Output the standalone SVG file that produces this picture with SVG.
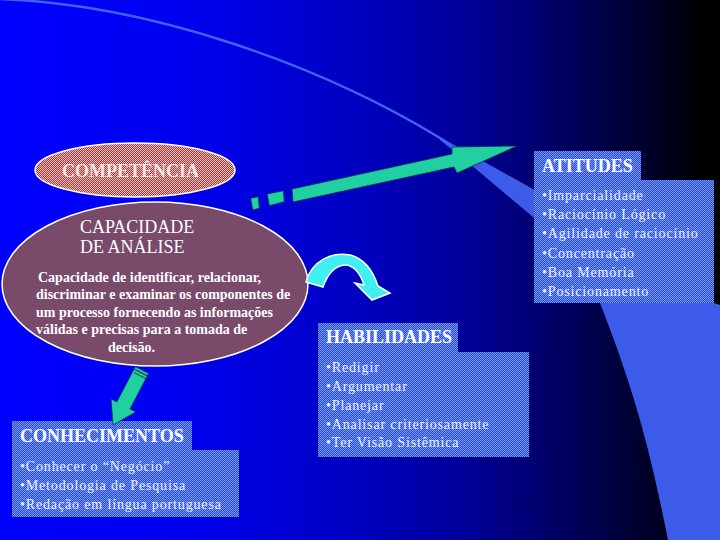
<svg xmlns="http://www.w3.org/2000/svg" width="720" height="540" viewBox="0 0 720 540">
  <defs>
    <linearGradient id="bg" x1="0" y1="0" x2="1" y2="0">
      <stop offset="0" stop-color="#0000ff"/>
      <stop offset="0.25" stop-color="#0000f0"/>
      <stop offset="0.5" stop-color="#0000c0"/>
      <stop offset="0.65" stop-color="#000098"/>
      <stop offset="0.8" stop-color="#000058"/>
      <stop offset="0.92" stop-color="#000020"/>
      <stop offset="0.97" stop-color="#000000"/>
    </linearGradient>
    <pattern id="dotBlue" width="2" height="2" patternUnits="userSpaceOnUse">
      <rect width="2" height="2" fill="#2448f0"/>
      <rect width="1" height="1" fill="#7898ff"/>
      <rect x="1" y="1" width="1" height="1" fill="#7898ff"/>
    </pattern>
    <pattern id="dotRed" width="2" height="2" patternUnits="userSpaceOnUse">
      <rect width="2" height="2" fill="#a03838"/>
      <rect width="1" height="1" fill="#e8c0c0"/>
      <rect x="1" y="1" width="1" height="1" fill="#e8c0c0"/>
    </pattern>
    <style>
      .title { font-family: "Liberation Serif", "Times New Roman", serif; font-weight: bold; font-size: 18px; fill: #ffffff; }
      .item { font-family: "Liberation Serif", "Times New Roman", serif; font-size: 14px; letter-spacing: 0.85px; fill: #eef2ff; }
      .body { font-family: "Liberation Serif", "Times New Roman", serif; font-weight: bold; font-size: 14px; fill: #ffffff; }
      .cap { font-family: "Liberation Serif", "Times New Roman", serif; font-size: 18px; fill: #ffffff; }
      .box { fill: url(#dotBlue); }
      .teal { fill: #20d0a0; stroke: #0a3050; stroke-width: 0.8; }
    </style>
  </defs>

  <g id="background">
    <rect width="720" height="540" fill="url(#bg)"/>
    <path d="M440,137 L540,193 L714,303 L720,305 L720,540 L668,540 C652,460 638,400 600,303 C580,262 556,236 533,217 L470,164 L440,140 Z" fill="#3b5be8"/>
    <path d="M-2,-1 C150,4 320,65 440,138 L470,158" fill="none" stroke="#3f63f0" stroke-width="2.5"/>
  </g>

  <g id="node-competencia">
    <ellipse cx="135" cy="170" rx="100" ry="27" fill="url(#dotRed)" stroke="#ffffff" stroke-width="1.5"/>
    <text class="title" x="62" y="177" style="fill:#f6e4e4">COMPETÊNCIA</text>
  </g>

  <g id="node-capacidade">
    <ellipse cx="155" cy="284" rx="153" ry="82" fill="#7a4a6a" stroke="#ffffff" stroke-width="1.5"/>
    <text class="cap" x="80" y="233">CAPACIDADE</text>
    <text class="cap" x="80" y="253">DE ANÁLISE</text>
    <text class="body" x="38" y="282">Capacidade de identificar, relacionar,</text>
    <text class="body" x="36" y="299">discriminar e examinar os componentes de</text>
    <text class="body" x="36" y="317">um processo fornecendo as informações</text>
    <text class="body" x="36" y="334">válidas e precisas para a tomada de</text>
    <text class="body" x="108" y="352">decisão.</text>
  </g>

  <g id="node-atitudes">
    <rect class="box" x="534" y="180" width="180" height="123"/>
    <rect class="box" x="534" y="151" width="107" height="29"/>
    <text class="title" x="542" y="172">ATITUDES</text>
    <text class="item" x="542" y="200">•Imparcialidade</text>
    <text class="item" x="542" y="219">•Raciocínio Lógico</text>
    <text class="item" x="542" y="238">•Agilidade de raciocínio</text>
    <text class="item" x="542" y="258">•Concentração</text>
    <text class="item" x="542" y="277">•Boa Memória</text>
    <text class="item" x="542" y="296">•Posicionamento</text>
  </g>

  <g id="node-habilidades">
    <rect class="box" x="318" y="352" width="211" height="105"/>
    <rect class="box" x="318" y="323" width="140" height="29"/>
    <text class="title" x="326" y="343">HABILIDADES</text>
    <text class="item" x="326" y="372">•Redigir</text>
    <text class="item" x="326" y="391">•Argumentar</text>
    <text class="item" x="326" y="410">•Planejar</text>
    <text class="item" x="326" y="429">•Analisar criteriosamente</text>
    <text class="item" x="326" y="447">•Ter Visão Sistêmica</text>
  </g>

  <g id="node-conhecimentos">
    <rect class="box" x="12" y="450" width="227" height="67"/>
    <rect class="box" x="12" y="421" width="180" height="29"/>
    <text class="title" x="20" y="442">CONHECIMENTOS</text>
    <text class="item" x="20" y="471">•Conhecer  o “Negócio”</text>
    <text class="item" x="20" y="490">•Metodologia de Pesquisa</text>
    <text class="item" x="20" y="509">•Redação em língua portuguesa</text>
  </g>

  <g id="connectors">
    <polygon class="teal" points="250.7,198.3 258.3,196.7 259.3,208.3 252.7,210"/>
    <polygon class="teal" points="267.3,194 283.3,190.7 284.3,201.7 269.3,205.7"/>
    <polygon class="teal" points="292,189 452,154 452,147 517,146 457,173 454,167 293,202"/>
    <path d="M306,282 C312,260 332,252 350,255 C362,258 372,268 378,286 L390,293 L372,300 L355,283 L364,285 C360,272 352,264 344,265 C336,266 328,273 323,287 Z" fill="#40f0f0" stroke="#ffffff" stroke-width="1.5"/>
    <polygon class="teal" points="135.4,366.5 148.6,373.5 130,408.9 135.8,411.9 113,425 111,398.9 116.8,401.9"/>
    <line x1="135" y1="369.5" x2="147.5" y2="376" stroke="#0a3050" stroke-width="1.2"/>
    <line x1="134" y1="372.5" x2="146.5" y2="379" stroke="#0a3050" stroke-width="1"/>
  </g>
</svg>
